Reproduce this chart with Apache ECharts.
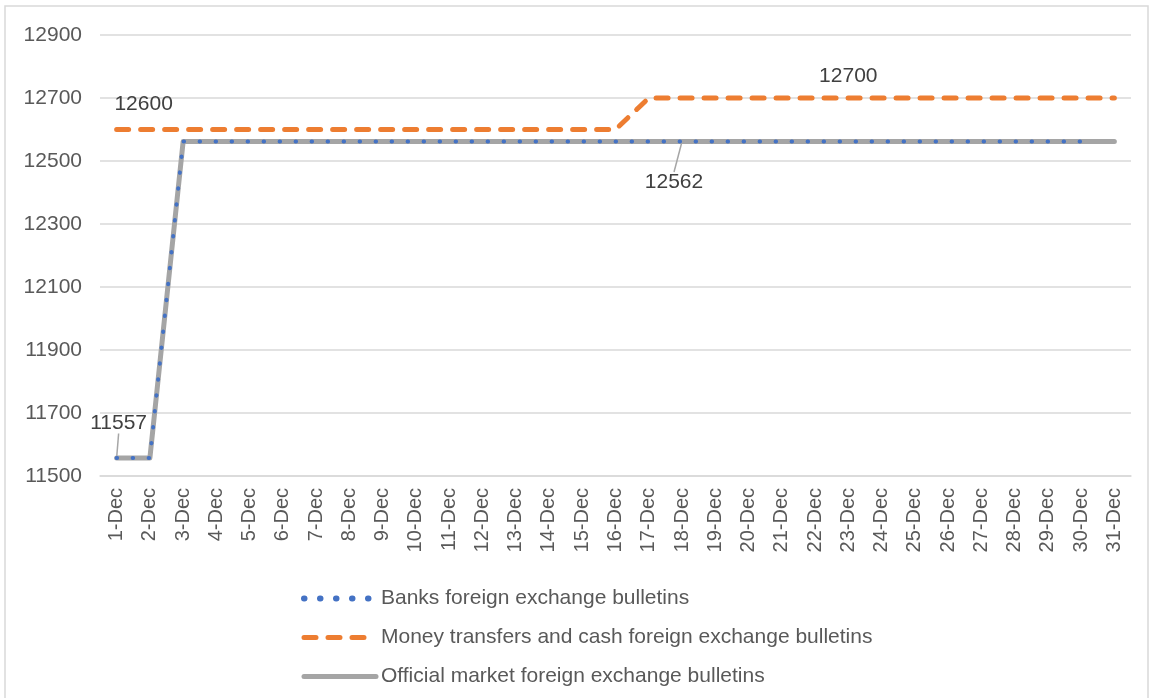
<!DOCTYPE html>
<html>
<head>
<meta charset="utf-8">
<script src="https://cdn.jsdelivr.net/npm/echarts@6/dist/echarts.min.js"></script>
<style>
  html, body { margin: 0; padding: 0; background: #fff; }
  #main { width: 1154px; height: 698px; }
</style>
</head>
<body>
<div id="main"></div>
<script>
// categories
const days = [];
for (let d = 1; d <= 31; d++) days.push(d + '-Dec');

// series values
const banks = [11557, 11557, 12562, 12562, 12562, 12562, 12562, 12562, 12562, 12562,
  12562, 12562, 12562, 12562, 12562, 12562, 12562, 12562, 12562, 12562,
  12562, 12562, 12562, 12562, 12562, 12562, 12562, 12562, 12562, 12562];
const transfers = [12600, 12600, 12600, 12600, 12600, 12600, 12600, 12600, 12600, 12600,
  12600, 12600, 12600, 12600, 12600, 12600, 12700, 12700, 12700, 12700,
  12700, 12700, 12700, 12700, 12700, 12700, 12700, 12700, 12700, 12700, 12700];
const official = [11557, 11557, 12562, 12562, 12562, 12562, 12562, 12562, 12562, 12562,
  12562, 12562, 12562, 12562, 12562, 12562, 12562, 12562, 12562, 12562,
  12562, 12562, 12562, 12562, 12562, 12562, 12562, 12562, 12562, 12562, 12562];

const names = [
  'Banks foreign exchange bulletins',
  'Money transfers and cash foreign exchange bulletins',
  'Official market foreign exchange bulletins'
];

const txt = '#595959';
const font = 'Liberation Sans, Arial, sans-serif';

const blueLine = { color: '#4472C4', width: 4, type: [0.5, 15.5], cap: 'round' };
const orangeLine = { color: '#ED7D31', width: 5, type: [12, 12], cap: 'round' };
const greyLine = { color: '#A5A5A5', width: 5, cap: 'round', join: 'round' };

// which points carry a data label (an invisible symbol holds the label)
function withLabels(values, labelled) {
  return values.map((v, i) => {
    if (labelled[i]) {
      return {
        value: v,
        symbol: 'circle',
        symbolSize: 1,
        itemStyle: { color: 'rgba(0,0,0,0)', borderWidth: 0 },
        label: Object.assign({ show: true }, labelled[i])
      };
    }
    return v;
  });
}

const lblBase = { fontSize: 21, color: '#404040', fontFamily: font };

let option = {
  animation: false,
  graphic: [{
    type: 'rect',
    shape: { x: 5, y: 6, width: 1143, height: 720 },
    style: { fill: 'none', stroke: '#d9d9d9', lineWidth: 1.5 },
    silent: true
  }],
  grid: { left: 100, right: 23, top: 35, bottom: 222 },
  legend: {
    orient: 'vertical',
    left: 296,
    top: 583,
    itemWidth: 72,
    itemHeight: 14,
    itemGap: 18,
    itemStyle: { opacity: 0 },
    data: [
      { name: names[0], lineStyle: Object.assign({}, blueLine, { width: 6 }) },
      { name: names[1], lineStyle: orangeLine },
      { name: names[2], lineStyle: greyLine }
    ],
    textStyle: { fontSize: 21, color: txt, fontFamily: font }
  },
  xAxis: {
    type: 'category',
    data: days,
    boundaryGap: true,
    axisLine: { lineStyle: { color: '#d9d9d9', width: 1.5 } },
    axisTick: { show: false },
    axisLabel: { rotate: 90, interval: 0, fontSize: 20, color: txt, margin: 12, fontFamily: font }
  },
  yAxis: {
    type: 'value',
    min: 11500,
    max: 12900,
    interval: 200,
    axisLine: { show: false },
    axisTick: { show: false },
    splitLine: { lineStyle: { color: '#d9d9d9', width: 1.5 } },
    axisLabel: { fontSize: 21, color: txt, margin: 18, fontFamily: font, formatter: v => String(v) }
  },
  series: [
    {
      name: names[2],
      type: 'line',
      z: 2,
      symbol: 'none',
      color: '#A5A5A5',
      lineStyle: greyLine,
      labelLine: { show: true, lineStyle: { color: '#a6a6a6', width: 1.5 } },
      labelLayout: function (p) {
        if (p.dataIndex === 0) return { dy: -19, dx: 2 };
        if (p.dataIndex === 17) return { dy: 25, dx: -8 };
        return {};
      },
      data: withLabels(official, {
        0: Object.assign({ position: 'top' }, lblBase),
        17: Object.assign({ position: 'bottom' }, lblBase)
      })
    },
    {
      name: names[0],
      type: 'line',
      z: 3,
      symbol: 'none',
      color: '#4472C4',
      lineStyle: blueLine,
      data: banks
    },
    {
      name: names[1],
      type: 'line',
      z: 4,
      symbol: 'none',
      color: '#ED7D31',
      lineStyle: orangeLine,
      labelLayout: function (p) {
        if (p.dataIndex === 0) return { dx: 27, dy: -9 };
        return {};
      },
      data: withLabels(transfers, {
        0: Object.assign({ position: 'top' }, lblBase),
        22: Object.assign({ position: 'top', distance: 11 }, lblBase)
      })
    }
  ]
};

let myChart = echarts.init(document.getElementById('main'));
myChart.setOption(option);
</script>
</body>
</html>
